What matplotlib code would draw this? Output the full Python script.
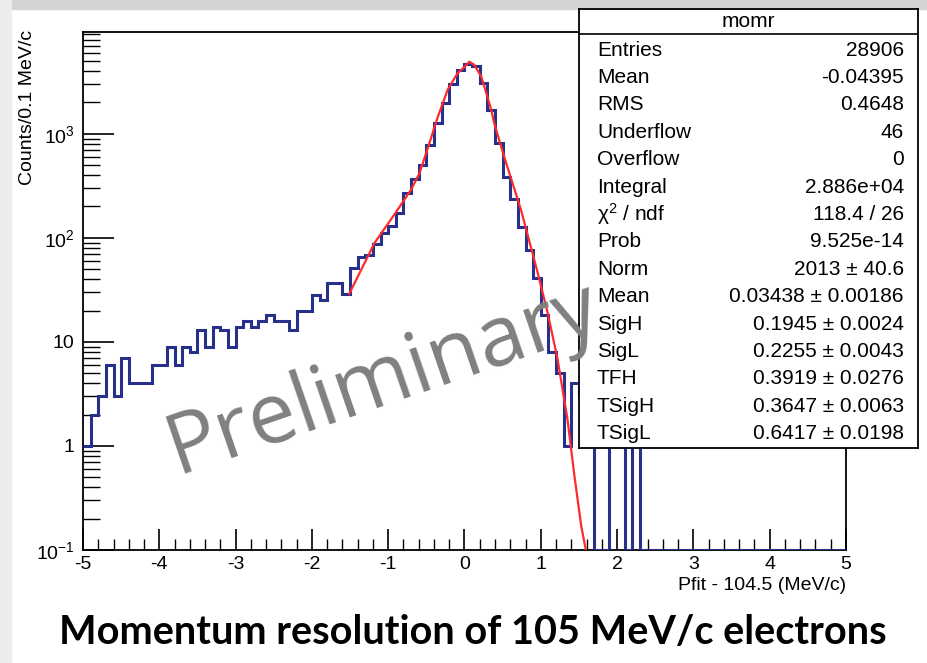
import numpy as np
import matplotlib
matplotlib.use('Agg')
import matplotlib.pyplot as plt
from matplotlib.ticker import MultipleLocator, LogLocator, FixedLocator, NullFormatter
from matplotlib.patches import Rectangle

plt.rcParams['font.family'] = ['Liberation Sans', 'DejaVu Sans']
plt.rcParams['mathtext.fontset'] = 'custom'
plt.rcParams['mathtext.rm'] = 'Liberation Sans'
plt.rcParams['mathtext.it'] = 'Liberation Sans:italic'

# histogram "momr": 100 bins of 0.1 MeV/c from -5 to 5
x_lo, x_hi = -5.0, 5.0
counts = [1, 2, 3, 6, 3, 7, 4, 4, 4, 6,
          6, 9, 6, 9, 8, 13, 9, 14, 13, 9,
          14, 16, 14, 16, 18, 16, 16, 13, 20, 20,
          28, 25, 37, 37, 29, 51, 66, 68, 87, 112,
          130, 173, 272, 364, 502, 780, 1270, 1960, 2980, 4130,
          4690, 4470, 3090, 1690, 823, 386, 236, 127, 77, 41,
          18, 8, 5, 1, 4, 3, 1, 0, 0, 1,
          1, 0, 1, 0, 0, 0, 0, 0, 0, 0,
          0, 0, 0, 0, 0, 0, 0, 0, 0, 0,
          0, 0, 0, 0, 0, 0, 0, 0, 0, 0]

# fitted function
fit_x = [-1.51, -1.18, -0.92, -0.70, -0.59, -0.46, -0.35, -0.22, -0.09, 0.0,
         0.063, 0.13, 0.22, 0.30, 0.35, 0.39, 0.48, 0.52, 0.74, 0.96,
         1.09, 1.22, 1.35, 1.44, 1.53, 1.59]
fit_y = [29, 89, 167, 290, 418, 812, 1450, 2660, 3830, 4380,
         4930, 4570, 3530, 2270, 1700, 1260, 755, 602, 186, 46,
         19, 6.8, 1.8, 0.52, 0.17, 0.1]

y_ticks = [0.1, 1, 10, 100, 1000]
y_ticklabels = ['$10^{-1}$', '1', '10', '$10^{2}$', '$10^{3}$']

stat_title = 'momr'
stat_names = ['Entries', 'Mean', 'RMS', 'Underflow', 'Overflow', 'Integral',
              '\u03c7$^{2}$ / ndf', 'Prob', 'Norm', 'Mean', 'SigH', 'SigL',
              'TFH', 'TSigH', 'TSigL']
stat_values = ['28906', '-0.04395', '0.4648', '46', '0', '2.886e+04',
               '118.4 / 26', '9.525e-14', '2013 \u00b1 40.6',
               '0.03438 \u00b1 0.00186', '0.1945 \u00b1 0.0024',
               '0.2255 \u00b1 0.0043', '0.3919 \u00b1 0.0276',
               '0.3647 \u00b1 0.0063', '0.6417 \u00b1 0.0198']

W, H = 928, 663
fig = plt.figure(figsize=(W / 100, H / 100), dpi=100)
fig.patch.set_facecolor('white')

# slide border
fig.patches.append(Rectangle((0, 1 - 9 / H), 1, 9 / H, transform=fig.transFigure,
                             color='#d4d4d4', zorder=0))
fig.patches.append(Rectangle((0, 0), 11 / W, 1, transform=fig.transFigure,
                             color='#ececec', zorder=0))

ax = fig.add_axes([83 / W, 1 - 550 / H, 763 / W, 518 / H])
edges = np.linspace(x_lo, x_hi, len(counts) + 1)
ymin = 0.1
shown = np.where(np.array(counts) > 0, counts, ymin)
ax.stairs(shown, edges, baseline=None, color='#27318b', lw=2.2, zorder=3)
ax.plot(fit_x, fit_y, color='#ff2a2a', lw=1.6, zorder=4)

ax.set_yscale('log')
ax.set_xlim(x_lo, x_hi)
ax.set_ylim(ymin, 9.5e3)

ax.xaxis.set_major_locator(MultipleLocator(1))
ax.xaxis.set_minor_locator(MultipleLocator(0.2))
ax.yaxis.set_major_locator(FixedLocator(y_ticks))
ax.set_yticklabels(y_ticklabels)
ax.yaxis.set_minor_locator(LogLocator(base=10, subs=np.arange(2, 10)))
ax.yaxis.set_minor_formatter(NullFormatter())
ax.set_xticklabels(['%d' % v for v in ax.get_xticks()])

ax.tick_params(which='both', direction='in', top=False, right=False,
               labelsize=14, color='black')
ax.tick_params(axis='x', which='major', length=15, width=1.2, pad=4)
ax.tick_params(axis='x', which='minor', length=8, width=1.0)
ax.tick_params(axis='y', which='major', length=22, width=1.2, pad=6)
ax.tick_params(axis='y', which='minor', length=12, width=1.0)
for s in ax.spines.values():
    s.set_linewidth(1.3)

fig.text(846 / W, 1 - 585 / H, 'Pfit - 104.5 (MeV/c)', ha='right', va='center',
         fontsize=14)
fig.text(28 / W, 1 - 30 / H, 'Counts/0.1 MeV/c', ha='center', va='top',
         rotation=90, fontsize=14)

# stats box in pixel coordinates
sax = fig.add_axes([579 / W, 1 - 448 / H, (918 - 579) / W, (448 - 9) / H], zorder=5)
sax.set_xlim(579, 918)
sax.set_ylim(448, 9)
sax.set_xticks([])
sax.set_yticks([])
sax.set_facecolor('white')
for s in sax.spines.values():
    s.set_linewidth(1.3)
sax.axhline(34, color='black', lw=1.2)
sax.text(748, 21, stat_title, ha='center', va='center', fontsize=15)
for i, (n, v) in enumerate(zip(stat_names, stat_values)):
    yy = 50 + 27.4 * i
    sax.text(597, yy, n, ha='left', va='center', fontsize=15)
    sax.text(904, yy, v, ha='right', va='center', fontsize=15)

fig.text(384 / W, 1 - 380 / H, 'Preliminary', rotation=19, rotation_mode='anchor',
         ha='center', va='center', fontsize=61, color='#808080',
         family='Open Sans', zorder=10)

fig.text(473 / W, 1 - 633 / H, 'Momentum resolution of 105 MeV/c electrons',
         ha='center', va='center', fontsize=28.5, fontweight='bold', family='Lato')

fig.savefig('out.png', dpi=100)
